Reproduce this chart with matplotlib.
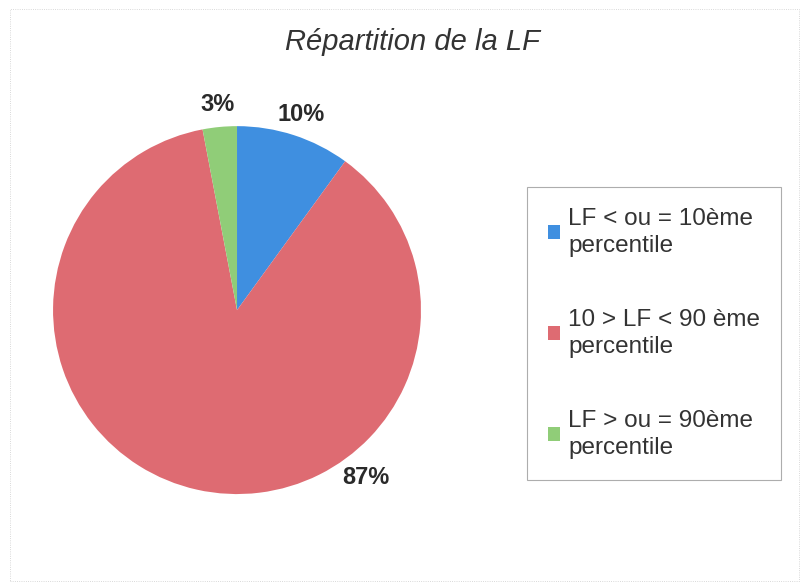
import numpy as np
import matplotlib.pyplot as plt
from matplotlib.patches import Rectangle

plt.rcParams['font.family'] = ['Liberation Sans', 'DejaVu Sans']

# Données
categories = ["LF < ou = 10ème\npercentile", "10 > LF < 90 ème\npercentile", "LF > ou = 90ème\npercentile"]
valeurs = [10, 87, 3]
couleurs = ["#3f8fe0", "#de6b72", "#90cd78"]

fig = plt.figure(figsize=(8.01, 5.84), dpi=100)
ax = fig.add_axes([0.0662, 0.154, 0.4594, 0.630])

wedges, textes, pcts = ax.pie(valeurs, colors=couleurs, startangle=90, counterclock=False,
                              autopct='%d%%', pctdistance=1.12,
                              textprops=dict(fontsize=17, fontweight='bold', color='#2a2a2a'))
ax.set_aspect('equal')
ax.set_xlim(-1, 1)
ax.set_ylim(-1, 1)

# le label de 87% est placé en bas à droite
ang = np.deg2rad(-52.5)
pcts[1].set_position((1.15 * np.cos(ang), 1.15 * np.sin(ang)))

fig.text(0.515, 0.928, "Répartition de la LF", ha='center', va='center',
         fontsize=21, style='italic', color='#333333')

leg = fig.legend(wedges, categories, loc='upper left', bbox_to_anchor=(0.658, 0.68),
                 frameon=True, fancybox=False, fontsize=17.5, handlelength=0.5,
                 handleheight=0.5, handletextpad=0.35, labelspacing=2.1,
                 borderpad=0.85, borderaxespad=0)
leg.get_frame().set_edgecolor('#999999')
leg.get_frame().set_linewidth(0.8)
for t in leg.get_texts():
    t.set_color('#333333')
    t.set_linespacing(1.35)

# bordure pointillée de la page
fig.patches.append(Rectangle((0.012, 0.005), 0.985, 0.98, transform=fig.transFigure,
                             fill=False, edgecolor='#cccccc', linewidth=0.6, linestyle=':'))

plt.savefig("out.png", dpi=100)
